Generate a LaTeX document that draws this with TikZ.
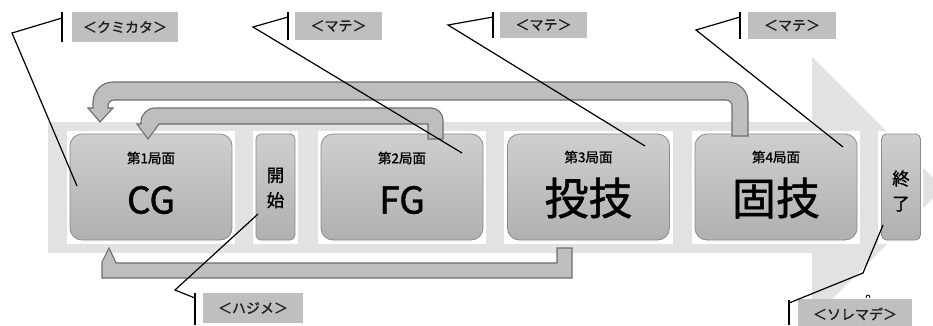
\documentclass[tikz,border=0pt]{standalone}
\usepackage{fontspec}
\setmainfont{Noto Sans CJK JP}[FakeBold=1.2]
\definecolor{shaft}{HTML}{E2E2E2}
\definecolor{arrowfill}{HTML}{BEBEBE}
\definecolor{arrowline}{HTML}{6E6E6E}
\definecolor{boxtop}{HTML}{CFCFCF}
\definecolor{boxbot}{HTML}{B0B0B0}
\definecolor{boxline}{HTML}{8A8A8A}
\definecolor{labfill}{HTML}{BFBFBF}
\definecolor{labtext}{HTML}{1E1E1E}
\begin{document}
\begin{tikzpicture}[x=1pt,y=-1pt,
  phase/.style={draw=boxline, line width=0.8pt, rounded corners=12pt, top color=boxtop, bottom color=boxbot, minimum width=162pt, minimum height=106pt, inner sep=0pt},
  slim/.style={phase, rounded corners=5pt, minimum width=39pt},
  frame/.style={fill=white},
  fbarrow/.style={fill=arrowfill, draw=arrowline, line width=1.1pt, line join=miter},
  labbox/.style={fill=labfill, text=labtext, inner sep=0pt, font=\fontsize{14}{16}\selectfont},
  bar/.style={draw=black, line width=1.2pt},
  leader/.style={draw=black, line width=1.2pt, line join=miter},
  small/.style={font=\fontsize{13.5}{15}\selectfont, inner sep=0pt},
  bigl/.style={font=\fontsize{37}{40}\selectfont, inner sep=0pt},
  bigk/.style={font=\fontsize{44}{46}\selectfont, inner sep=0pt},
  vert/.style={font=\fontsize{17.5}{25}\selectfont, inner sep=0pt, align=center}]
\clip (0,0) rectangle (933,325);
\fill[white] (0,0) rectangle (933,325);
% big background arrow
\fill[shaft] (48,122) -- (812,122) -- (812,57) -- (943,188) -- (812,319) -- (812,253) -- (48,253) -- cycle;
% white frames
\fill[frame] (67,131) rectangle (235,244);
\fill[frame] (253,131) rectangle (298,244);
\fill[frame] (318,131) rectangle (486,244);
\fill[frame] (504,131) rectangle (673,244);
\fill[frame] (692,131) rectangle (860,244);
\fill[frame] (878,131) rectangle (923,244);
% boxes
\node[phase] (cg) at (151,187) {};
\node[slim] (st) at (275.5,187) {};
\node[phase] (fg) at (402,187) {};
\node[phase] (tw) at (588.5,187) {};
\node[phase] (kw) at (776,187) {};
\node[slim] (en) at (901,187) {};
% texts
\node[small] (cgs) at (151,158) {第1局面};
\node[bigl] (cgb) at (151,200) {CG};
\node[small] (fgs) at (402,158) {第2局面};
\node[bigl] (fgb) at (402,200) {FG};
\node[small] (tws) at (588.5,157) {第3局面};
\node[bigk] (twb) at (588.5,198) {投技};
\node[small] (kws) at (776,157) {第4局面};
\node[bigk] (kwb) at (776,198) {固技};
\node[vert] (stt) at (275.5,188) {開\\始};
\node[vert] (ent) at (901,191) {終\\了};
% feedback arrows
\draw[fbarrow] (732,136) -- (732,106) .. controls (732,102.7) and (729.3,100) .. (726,100) -- (114,100) .. controls (110.7,100) and (108,102.7) .. (108,106) -- (108,108) -- (113,108) -- (100,122) -- (88,108) -- (93,108) -- (93,102) .. controls (93,91) and (102,82) .. (113,82) -- (728,82) .. controls (739,82) and (748,91) .. (748,102) -- (748,136) -- cycle;
\draw[fbarrow] (428,139) -- (428,124) -- (159,124) -- (148,139) -- (137,124) -- (141,124) -- (141,122) .. controls (141,114.3) and (147.3,108) .. (155,108) -- (431,108) .. controls (437.6,108) and (443,113.4) .. (443,120) -- (443,139) -- cycle;
\draw[fbarrow] (102,278) -- (102,262) -- (109,248) -- (116,263) -- (557,263) -- (557,248) -- (572,248) -- (572,278) -- cycle;
% labels
\node[labbox, minimum width=106pt, minimum height=30pt] (l1) at (125,27) {＜クミカタ＞};
\node[labbox, minimum width=87pt, minimum height=28pt] (l2) at (338.5,26) {＜マテ＞};
\node[labbox, minimum width=87pt, minimum height=26pt] (l3) at (543.5,25) {＜マテ＞};
\node[labbox, minimum width=88pt, minimum height=27pt] (l4) at (792,25.5) {＜マテ＞};
\node[labbox, minimum width=100pt, minimum height=30pt] (l5) at (253,308) {＜ハジメ＞};
\node[labbox, minimum width=114pt, minimum height=30pt] (l6) at (855,314) {＜ソレマデ＞};
% bars
\coordinate (b1t) at (62,12); \coordinate (b1b) at (62,42);
\coordinate (b2t) at (288,12); \coordinate (b2b) at (288,40);
\coordinate (b3t) at (493,12); \coordinate (b3b) at (493,38);
\coordinate (b4t) at (740,12); \coordinate (b4b) at (740,39);
\coordinate (b5t) at (195,293); \coordinate (b5b) at (195,325);
\coordinate (b6t) at (789,300); \coordinate (b6b) at (789,325);
\draw[bar] (b1t) -- (b1b);
\draw[bar] (b2t) -- (b2b);
\draw[bar] (b3t) -- (b3b);
\draw[bar] (b4t) -- (b4b);
\draw[bar] (b5t) -- (b5b);
\draw[bar] (b6t) -- (b6b);
% leader lines
\coordinate (a1) at (62,18); \coordinate (k1) at (12,33); \coordinate (p1) at (77,186);
\coordinate (a2) at (288,17); \coordinate (k2) at (253,27); \coordinate (p2) at (462,153);
\coordinate (a3) at (493,17); \coordinate (k3) at (448,25); \coordinate (p3) at (645,146);
\coordinate (a4) at (740,17); \coordinate (k4) at (696,30); \coordinate (p4) at (843,147);
\coordinate (a5) at (195,298); \coordinate (k5) at (175,290); \coordinate (p5) at (258,214);
\coordinate (a6) at (789,303); \coordinate (k6) at (863,273); \coordinate (p6) at (883,225);
\draw[leader] (a1) -- (k1) -- (p1);
\draw[leader] (a2) -- (k2) -- (p2);
\draw[leader] (a3) -- (k3) -- (p3);
\draw[leader] (a4) -- (k4) -- (p4);
\draw[leader] (a5) -- (k5) -- (p5);
\draw[leader] (a6) -- (k6) -- (p6);
% small mark above the last label
\coordinate (m1) at (866,298);
\draw[black, line width=0.8pt] (m1) .. controls (866,294) and (870,294) .. (870,298);
\end{tikzpicture}
\end{document}
